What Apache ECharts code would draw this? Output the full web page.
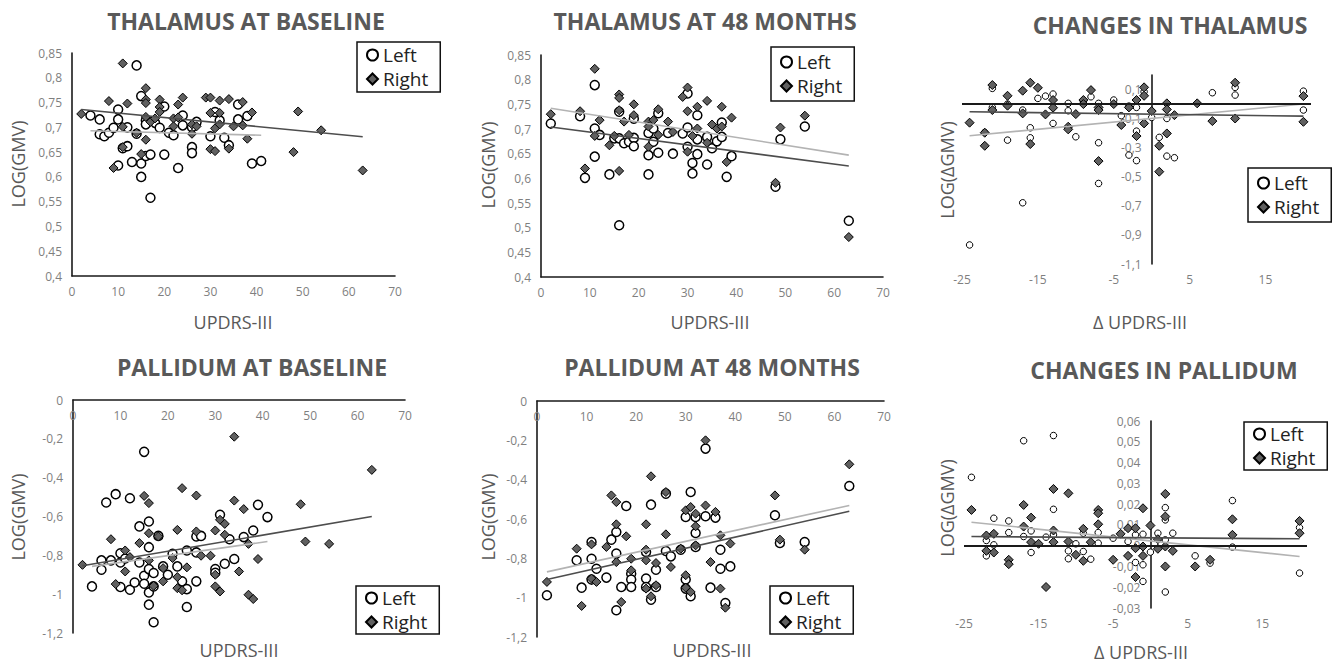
<!DOCTYPE html>
<html><head><meta charset="utf-8">
<script src="https://cdn.jsdelivr.net/npm/echarts/dist/echarts.min.js"></script>
<style>html,body{margin:0;padding:0;background:#fff}#c{width:1336px;height:663px}</style>
</head><body><div id="c"></div><script>
// ---- Thalamus at baseline ----
const thalBaseLeft = [[4,0.724],[6,0.716],[6,0.686],[7,0.682],[8,0.689],[9,0.699],[10,0.736],[10,0.716],[10,0.623],[11,0.658],[12,0.662],[12,0.700],[13,0.630],[14,0.825],[14,0.687],[15,0.763],[15,0.600],[15,0.627],[16,0.714],[16,0.706],[16,0.642],[17,0.645],[17,0.558],[18,0.709],[19,0.699],[20,0.742],[20,0.645],[21,0.689],[22,0.684],[23,0.618],[24,0.724],[24,0.704],[26,0.660],[26,0.648],[26,0.700],[27,0.711],[30,0.682],[31,0.731],[32,0.714],[33,0.679],[34,0.664],[36,0.746],[36,0.716],[38,0.723],[39,0.627],[41,0.632]];
const thalBaseRight = [[2,0.727],[8,0.753],[9,0.618],[11,0.829],[11,0.701],[11,0.660],[12,0.748],[14,0.689],[15,0.646],[16,0.779],[16,0.756],[16,0.749],[16,0.721],[16,0.675],[17,0.711],[18,0.718],[19,0.756],[19,0.741],[19,0.731],[22,0.718],[22,0.702],[23,0.746],[23,0.720],[24,0.760],[26,0.687],[26,0.706],[27,0.702],[29,0.760],[30,0.760],[30,0.729],[30,0.656],[31,0.698],[31,0.652],[32,0.754],[32,0.729],[32,0.706],[34,0.757],[34,0.657],[35,0.702],[37,0.751],[37,0.704],[38,0.677],[39,0.730],[48,0.650],[49,0.732],[54,0.694],[63,0.613]];
const thalBaseLeftTrend = [[4,0.693],[41,0.684]];
const thalBaseRightTrend = [[2,0.736],[63,0.681]];

// ---- Thalamus at 48 months ----
const thal48Left = [[2,0.711],[8,0.726],[9,0.601],[11,0.789],[11,0.701],[11,0.644],[12,0.688],[14,0.608],[15,0.681],[16,0.505],[16,0.735],[16,0.681],[17,0.671],[18,0.674],[19,0.721],[19,0.682],[19,0.665],[22,0.692],[22,0.647],[22,0.608],[23,0.701],[23,0.674],[24,0.732],[24,0.652],[26,0.692],[27,0.650],[29,0.691],[30,0.772],[30,0.703],[30,0.664],[31,0.631],[31,0.610],[32,0.728],[32,0.679],[32,0.649],[34,0.684],[34,0.628],[35,0.661],[36,0.675],[37,0.713],[37,0.684],[38,0.603],[39,0.645],[48,0.583],[49,0.679],[54,0.705],[63,0.514]];
const thal48Right = [[2,0.730],[8,0.736],[9,0.620],[11,0.822],[11,0.686],[12,0.718],[14,0.667],[15,0.686],[16,0.770],[16,0.763],[16,0.738],[16,0.615],[17,0.715],[18,0.688],[19,0.750],[19,0.728],[22,0.715],[22,0.705],[22,0.664],[23,0.718],[24,0.740],[24,0.688],[26,0.715],[27,0.694],[29,0.765],[30,0.784],[30,0.736],[30,0.654],[31,0.686],[32,0.745],[32,0.701],[34,0.757],[34,0.672],[35,0.709],[36,0.701],[37,0.745],[37,0.705],[38,0.633],[39,0.723],[48,0.591],[49,0.703],[54,0.727],[63,0.481]];
const thal48LeftTrend = [[2,0.742],[63,0.647]];
const thal48RightTrend = [[2,0.704],[63,0.625]];

// ---- Changes in thalamus ----
const thalChgLeft = [[-24,-0.969],[-22,-0.195],[-21,0.108],[-21,-0.023],[-19,-0.248],[-19,0.000],[-17,-0.041],[-17,-0.679],[-16,-0.163],[-16,-0.232],[-15,0.039],[-14,0.055],[-13,0.069],[-13,-0.133],[-11,0.005],[-11,-0.046],[-10,-0.225],[-9,0.016],[-8,0.050],[-7,0.005],[-7,-0.266],[-7,-0.546],[-5,0.028],[-4,-0.080],[-3,-0.351],[-3,-0.014],[-2,-0.023],[-2,-0.186],[-2,-0.389],[-1,0.085],[0,-0.092],[1,-0.229],[2,-0.099],[2,-0.358],[3,-0.369],[8,0.078],[11,0.115],[11,0.062],[20,0.089],[20,-0.041]];
const thalChgRight = [[-24,-0.128],[-22,-0.197],[-22,-0.287],[-21,0.131],[-21,-0.041],[-19,0.057],[-19,-0.011],[-17,0.092],[-17,-0.064],[-16,0.147],[-16,-0.275],[-15,0.112],[-14,-0.071],[-13,0.028],[-13,-0.025],[-11,-0.156],[-11,-0.174],[-10,-0.069],[-9,0.028],[-9,0.000],[-8,0.096],[-7,-0.023],[-7,-0.041],[-7,-0.392],[-5,0.000],[-4,-0.144],[-3,-0.023],[-2,0.028],[-2,-0.220],[-1,0.115],[-1,0.057],[-1,-0.133],[0,-0.048],[1,-0.287],[1,-0.465],[2,0.005],[2,-0.037],[2,-0.202],[3,-0.076],[6,0.005],[8,-0.117],[11,0.147],[11,-0.099],[20,0.055],[20,-0.122]];
const thalChgLeftTrend = [[-24,-0.218],[20,0.000]];
const thalChgRightTrend = [[-24,-0.053],[20,-0.083]];

// ---- Pallidum at baseline ----
const palBaseLeft = [[4,-0.960],[6,-0.826],[6,-0.874],[7,-0.528],[8,-0.826],[9,-0.485],[10,-0.789],[10,-0.837],[10,-0.963],[11,-0.816],[12,-0.506],[12,-0.977],[13,-0.940],[14,-0.651],[14,-0.837],[15,-0.267],[15,-0.905],[15,-0.946],[16,-0.626],[16,-0.758],[16,-0.871],[16,-0.991],[16,-1.054],[17,-0.891],[17,-0.960],[17,-1.145],[18,-0.700],[19,-0.857],[20,-0.900],[21,-0.792],[22,-0.857],[23,-0.934],[24,-0.775],[24,-0.974],[24,-1.066],[26,-0.934],[26,-0.703],[26,-0.785],[27,-0.700],[30,-0.871],[30,-0.890],[31,-0.591],[32,-0.843],[33,-0.717],[34,-0.819],[36,-0.706],[38,-0.672],[39,-0.540],[41,-0.603]];
const palBaseRight = [[2,-0.849],[8,-0.717],[9,-0.948],[11,-0.775],[11,-0.883],[12,-0.809],[14,-0.737],[15,-0.494],[16,-0.531],[16,-0.686],[16,-0.826],[17,-0.957],[18,-0.703],[19,-0.866],[19,-0.934],[21,-0.814],[22,-0.669],[22,-0.912],[22,-0.969],[23,-0.454],[23,-0.980],[24,-0.862],[26,-0.492],[26,-0.677],[27,-0.802],[29,-0.802],[30,-0.672],[30,-0.900],[30,-0.960],[31,-0.986],[31,-0.617],[32,-0.638],[32,-0.694],[34,-0.189],[34,-0.518],[35,-0.883],[36,-0.562],[37,-0.741],[37,-1.003],[38,-1.025],[39,-0.819],[48,-0.537],[49,-0.729],[54,-0.741],[63,-0.360]];
const palBaseLeftTrend = [[4,-0.857],[41,-0.729]];
const palBaseRightTrend = [[2,-0.854],[63,-0.600]];

// ---- Pallidum at 48 months ----
const pal48Left = [[2,-0.988],[8,-0.810],[9,-0.949],[11,-0.717],[11,-0.802],[11,-0.908],[12,-0.853],[14,-0.898],[15,-0.705],[16,-0.666],[16,-0.776],[16,-1.064],[17,-0.946],[18,-0.534],[19,-0.878],[19,-0.908],[19,-0.946],[22,-0.768],[22,-0.903],[22,-0.946],[23,-0.527],[23,-1.010],[24,-0.858],[24,-0.946],[26,-0.471],[26,-0.763],[27,-0.790],[29,-0.756],[30,-0.590],[30,-0.908],[30,-0.954],[31,-0.463],[31,-0.993],[32,-0.590],[32,-0.671],[32,-0.742],[34,-0.242],[34,-0.586],[35,-0.949],[36,-0.593],[37,-0.756],[37,-0.853],[38,-1.027],[39,-0.841],[48,-0.581],[49,-0.722],[54,-0.717],[63,-0.432]];
const pal48Right = [[2,-0.920],[8,-0.751],[9,-1.042],[11,-0.729],[11,-0.903],[12,-0.920],[14,-0.742],[15,-0.480],[16,-0.514],[16,-0.627],[16,-0.819],[17,-1.022],[18,-0.688],[19,-0.802],[19,-0.861],[22,-0.627],[22,-0.756],[22,-0.810],[22,-0.954],[23,-0.383],[23,-0.993],[24,-0.824],[24,-0.937],[26,-0.463],[26,-0.678],[27,-0.844],[29,-0.751],[30,-0.556],[30,-0.886],[30,-0.949],[31,-0.539],[31,-0.971],[32,-0.573],[32,-0.637],[32,-0.734],[34,-0.200],[34,-0.531],[35,-0.819],[36,-0.564],[37,-0.683],[37,-0.954],[38,-1.051],[39,-0.725],[48,-0.480],[49,-0.705],[54,-0.756],[63,-0.322]];
const pal48LeftTrend = [[2,-0.869],[63,-0.531]];
const pal48RightTrend = [[2,-0.908],[63,-0.561]];

// ---- Changes in pallidum ----
const palChgLeft = [[-24,0.0329],[-22,0.0025],[-22,-0.0049],[-21,0.0132],[-21,0.0004],[-19,0.0119],[-19,0.0063],[-17,0.0505],[-17,0.0044],[-16,0.0071],[-16,-0.0033],[-14,0.0041],[-13,0.0530],[-13,0.0175],[-13,0.0052],[-11,-0.0025],[-11,-0.0063],[-10,0.0009],[-9,-0.0028],[-9,0.0060],[-8,-0.0065],[-7,0.0063],[-7,0.0012],[-5,0.0036],[-3,0.0020],[-2,0.0052],[-2,-0.0081],[-1,0.0055],[-1,-0.0092],[-1,-0.0172],[0,-0.0031],[1,0.0060],[2,0.0183],[2,0.0124],[2,0.0028],[2,-0.0223],[3,0.0060],[6,-0.0049],[8,-0.0084],[11,0.0217],[11,-0.0007],[20,0.0087],[20,-0.0132]];
const palChgRight = [[-24,0.0172],[-22,0.0049],[-22,-0.0025],[-21,0.0057],[-21,-0.0033],[-19,-0.0068],[-19,-0.0089],[-17,0.0196],[-17,0.0092],[-16,0.0135],[-16,0.0017],[-15,0.0009],[-14,-0.0199],[-13,0.0273],[-13,0.0073],[-13,0.0017],[-11,0.0252],[-11,0.0020],[-10,-0.0044],[-9,0.0081],[-9,-0.0073],[-8,0.0017],[-7,0.0172],[-7,0.0156],[-7,0.0103],[-5,-0.0068],[-4,0.0057],[-3,0.0084],[-3,-0.0049],[-2,0.0084],[-2,-0.0012],[-2,-0.0151],[-1,0.0180],[-1,-0.0004],[-1,-0.0049],[0,0.0097],[1,0.0031],[1,-0.0015],[2,0.0249],[2,0.0140],[2,-0.0004],[2,-0.0100],[3,-0.0025],[6,-0.0100],[8,-0.0068],[11,0.0127],[11,0.0052],[20,0.0119],[20,0.0060]];
const palChgLeftTrend = [[-24,0.0113],[20,-0.0052]];
const palChgRightTrend = [[-24,0.0044],[20,0.0033]];

// ---- Titles and axis ranges ----
const panelTitles = ['THALAMUS AT BASELINE','THALAMUS AT 48 MONTHS','CHANGES IN THALAMUS','PALLIDUM AT BASELINE','PALLIDUM AT 48 MONTHS','CHANGES IN PALLIDUM'];
const xAxisTitles = ['UPDRS-III','UPDRS-III','Δ UPDRS-III','UPDRS-III','UPDRS-III','Δ UPDRS-III'];
const yAxisTitles = ['LOG(GMV)','LOG(GMV)','LOG(ΔGMV)','LOG(GMV)','LOG(GMV)','LOG(ΔGMV)'];
const xRanges = [[0,70,10],[0,70,10],[-25,21,10],[0,70,10],[0,70,10],[-25,21,10]];
const yRanges = [[0.4,0.85,0.05],[0.4,0.85,0.05],[-1.1,0.2,0.2],[-1.2,0,0.2],[-1.2,0,0.2],[-0.03,0.06,0.01]];
const legendNames = ['Left','Right'];

const seriesData = [
  [thalBaseLeft, thalBaseRight, thalBaseLeftTrend, thalBaseRightTrend],
  [thal48Left, thal48Right, thal48LeftTrend, thal48RightTrend],
  [thalChgLeft, thalChgRight, thalChgLeftTrend, thalChgRightTrend],
  [palBaseLeft, palBaseRight, palBaseLeftTrend, palBaseRightTrend],
  [pal48Left, pal48Right, pal48LeftTrend, pal48RightTrend],
  [palChgLeft, palChgRight, palChgLeftTrend, palChgRightTrend]
];

// ---- layout (pixels) ----
const W = 1336, H = 663;
const layout = [
  {kind:'abs', grid:{left:72,top:53,right:941,bottom:387}, t:[246,21], xt:[233,322], yt:[18,164], leg:[357,42], lp:2},
  {kind:'abs', grid:{left:541,top:55,right:453,bottom:386}, t:[705,21], xt:[710,322], yt:[488,165], leg:[771,47], lp:4},
  {kind:'chg', grid:{left:962,top:75,right:25,bottom:399}, t:[1170,25], xt:[1140,322], yt:[947,170], leg:[1248,168], lp:4},
  {kind:'pal', grid:{left:73,top:400,right:931,bottom:30}, t:[252,367], xt:[239,650], yt:[18,517], leg:[356,586], lp:1},
  {kind:'pal', grid:{left:537,top:401,right:452,bottom:26}, t:[712,367], xt:[712,650], yt:[488,517], leg:[770,586], lp:1},
  {kind:'chg', grid:{left:964,top:421,right:29,bottom:55}, t:[1164,370], xt:[1141,652], yt:[947,508], leg:[1244,422], lp:1}
];

const FONT = '"Open Sans", "Noto Sans", sans-serif';
function fmt(v){ return String(Math.round(v*10000)/10000).replace('.', ','); }

const grids = [], xAxes = [], yAxes = [], series = [], legends = [], graphics = [];
layout.forEach(function(p, i){
  grids.push(Object.assign({containLabel:false, outerBoundsMode:'none'}, p.grid));
  const chg = p.kind === 'chg', pal = p.kind === 'pal';
  const xr = xRanges[i], yr = yRanges[i];
  const gw = W - p.grid.left - p.grid.right;
  // y axis sits where x = 0 (for the change panels this is inside the plot)
  const yOffset = -((0 - xr[0]) / (xr[1] - xr[0])) * gw;
  xAxes.push({
    type:'value', gridIndex:i, min:xr[0], max:xr[1], interval:xr[2],
    position: pal ? 'top' : 'bottom',
    axisLine:{show:!chg, onZero:false, lineStyle:{color:'#1a1a1a', width:1.6}},
    axisTick:{show:false}, splitLine:{show:false},
    axisLabel:{color:'#7f7f7f', fontSize:12, fontFamily:FONT, margin: pal ? 9 : 9, inside: pal, showMaxLabel:!chg, formatter:fmt}
  });
  yAxes.push({
    type:'value', gridIndex:i, min:yr[0], max:yr[1], interval:yr[2],
    position:'left', offset: chg ? yOffset : 0,
    axisLine:{show:true, onZero:false, lineStyle:{color:'#1a1a1a', width:1.6}},
    axisTick:{show:false}, splitLine:{show:false},
    axisLabel:{color:'#7f7f7f', fontSize:12, fontFamily:FONT, margin:10, showMaxLabel: i!==2, formatter:fmt}
  });
  const d = seriesData[i];
  series.push({
    name:legendNames[0], type:'scatter', xAxisIndex:i, yAxisIndex:i, data:d[0],
    symbol:'circle', symbolSize: chg ? 6.5 : 9, z:2,
    itemStyle:{color:'#ffffff', borderColor:'#000', borderWidth: chg ? 1 : 1.5, opacity:1},
    emphasis:{disabled:true}
  });
  series.push({
    name:legendNames[1], type:'scatter', xAxisIndex:i, yAxisIndex:i, data:d[1],
    symbol:'diamond', symbolSize: 9, z:2,
    itemStyle:{color:'#606060', borderColor:'#000', borderWidth:1, opacity:1},
    emphasis:{disabled:true}
  });
  const lt = {
    name:'Left trend', type:'line', xAxisIndex:i, yAxisIndex:i, data:d[2], symbol:'none', z:3,
    lineStyle:{color:'#b3b3b3', width:1.6}, silent:true, emphasis:{disabled:true}
  };
  if (chg) {
    lt.markLine = {silent:true, symbol:['none','none'], label:{show:false},
      lineStyle:{color:'#1a1a1a', width:1.8, type:'solid'}, data:[{yAxis:0}], animation:false};
  }
  series.push(lt);
  series.push({
    name:'Right trend', type:'line', xAxisIndex:i, yAxisIndex:i, data:d[3], symbol:'none', z:3,
    lineStyle:{color:'#4d4d4d', width:1.6}, silent:true, emphasis:{disabled:true}
  });
  legends.push({
    left:p.leg[0], top:p.leg[1], orient:'vertical', selectedMode:false,
    padding:[p.lp,12,p.lp,9], itemGap:2, itemWidth: 11, itemHeight: 11,
    backgroundColor:'#fff', borderColor:'#111', borderWidth:1.5,
    data:[{name:legendNames[0], icon:'circle'},{name:legendNames[1], icon:'diamond'}],
    textStyle:{fontSize:19, color:'#222', fontFamily:FONT, lineHeight:22}
  });
  graphics.push({type:'text', x:p.t[0], y:p.t[1], silent:true,
    style:{text:panelTitles[i], align:'center', verticalAlign:'middle', textAlign:'center', textVerticalAlign:'middle',
      fill:'#595959', fontSize:23, fontWeight:'bold', fontFamily:FONT}});
  graphics.push({type:'text', x:p.xt[0], y:p.xt[1], silent:true,
    style:{text:xAxisTitles[i], align:'center', verticalAlign:'middle', textAlign:'center', textVerticalAlign:'middle',
      fill:'#595959', fontSize:18, fontFamily:FONT}});
  graphics.push({type:'text', x:p.yt[0], y:p.yt[1], rotation:Math.PI/2, silent:true,
    style:{text:yAxisTitles[i], align:'center', verticalAlign:'middle', textAlign:'center', textVerticalAlign:'middle',
      fill:'#595959', fontSize:18, fontFamily:FONT}});
});

const chart = echarts.init(document.getElementById('c'), null, {renderer:'svg', width:W, height:H});
chart.setOption({
  animation:false,
  backgroundColor:'#fff',
  grid:grids, xAxis:xAxes, yAxis:yAxes, series:series, legend:legends, graphic:graphics,
  tooltip:{show:false}
});
</script></body></html>
